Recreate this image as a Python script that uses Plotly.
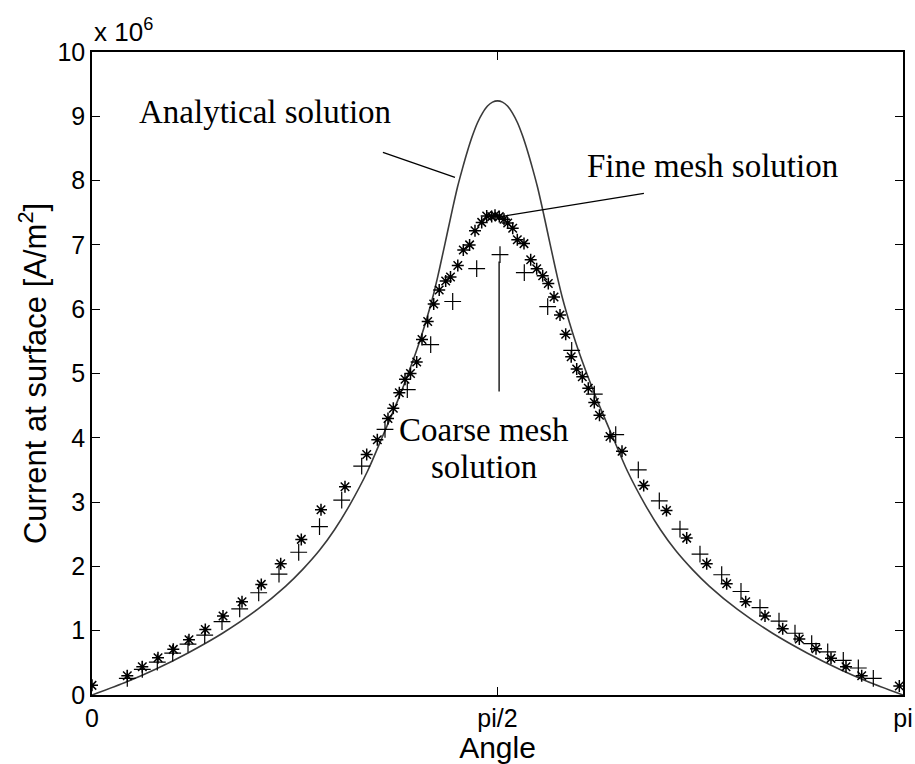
import plotly.graph_objects as go

# ---- data (current in units of 1e6 A/m^2) ----
analytic_angle = [0.0, 0.1375, 0.2460, 0.3700, 0.5055, 0.6411, 0.7496, 0.8154, 0.8813, 0.9394,
                  0.9975, 1.0672, 1.1253, 1.1834, 1.2222, 1.2609, 1.2919, 1.3190, 1.3384, 1.3577,
                  1.3771, 1.3965, 1.4159, 1.4352, 1.4546, 1.4740, 1.4933, 1.5127, 1.5321, 1.5514,
                  1.5708, 1.5902, 1.6095, 1.6289, 1.6483, 1.6676, 1.6870, 1.7064, 1.7257, 1.7451,
                  1.7645, 1.7839, 1.8032, 1.8226, 1.8497, 1.8807, 1.9194, 1.9582, 2.0163, 2.0744,
                  2.1441, 2.2022, 2.2603, 2.3262, 2.3920, 2.5005, 2.6361, 2.7716, 2.8956, 3.0041,
                  3.1416]
analytic_vals = [0.0, 0.21, 0.40, 0.65, 0.96, 1.33, 1.69, 1.95, 2.25, 2.57,
                 2.95, 3.48, 4.02, 4.57, 4.97, 5.40, 5.79, 6.17, 6.49, 6.84,
                 7.20, 7.56, 7.90, 8.19, 8.46, 8.70, 8.90, 9.05, 9.16, 9.22,
                 9.24, 9.22, 9.16, 9.05, 8.90, 8.70, 8.46, 8.19, 7.90, 7.56,
                 7.20, 6.84, 6.49, 6.17, 5.79, 5.40, 4.97, 4.57, 4.02, 3.48,
                 2.95, 2.57, 2.25, 1.95, 1.69, 1.33, 0.96, 0.65, 0.40, 0.21,
                 0.0]

fine_angle = [0.0, 0.1367, 0.1948, 0.2557, 0.3149, 0.3757, 0.4389, 0.5075, 0.5811, 0.6558,
              0.7310, 0.8108, 0.8871, 0.9800, 1.0641, 1.1052, 1.1466, 1.1672, 1.1904, 1.2125,
              1.2338, 1.2578, 1.2783, 1.3004, 1.3237, 1.3450, 1.3701, 1.3887, 1.4170, 1.4383,
              1.4627, 1.4836, 1.5096, 1.5290, 1.5483, 1.5611, 1.5778, 1.5960, 1.6103, 1.6297,
              1.6475, 1.6734, 1.6994, 1.7226, 1.7459, 1.7676, 1.7897, 1.8129, 1.8350, 1.8563,
              1.8776, 1.8993, 1.9225, 1.9458, 1.9659, 2.0066, 2.0531, 2.1371, 2.2254, 2.3037,
              2.3812, 2.4586, 2.5322, 2.6070, 2.6756, 2.7399, 2.8046, 2.8627, 2.9208, 2.9816,
              3.1273]
fine_vals = [0.15, 0.30, 0.44, 0.58, 0.71, 0.86, 1.02, 1.23, 1.45, 1.72,
             2.04, 2.42, 2.88, 3.24, 3.74, 3.97, 4.30, 4.46, 4.70, 4.91,
             5.00, 5.18, 5.53, 5.81, 6.08, 6.30, 6.44, 6.50, 6.68, 6.92,
             7.00, 7.22, 7.35, 7.45, 7.44, 7.46, 7.44, 7.40, 7.34, 7.26,
             7.08, 7.02, 6.77, 6.63, 6.52, 6.40, 6.19, 5.91, 5.61, 5.26,
             5.07, 4.95, 4.77, 4.55, 4.35, 4.02, 3.79, 3.26, 2.87, 2.44,
             2.04, 1.73, 1.45, 1.23, 1.03, 0.87, 0.72, 0.57, 0.44, 0.30,
             0.14]

coarse_angle = [0.1367, 0.1948, 0.2530, 0.3126, 0.3719, 0.4366, 0.5036, 0.5721, 0.6457, 0.7244,
                0.8007, 0.8813, 0.9673, 1.0447, 1.1350, 1.2214, 1.3120, 1.3972, 1.4902, 1.5805,
                1.6746, 1.7652, 1.8582, 1.9458, 2.0287, 2.1162, 2.1976, 2.2777, 2.3552, 2.4393,
                2.5140, 2.5876, 2.6613, 2.7232, 2.7879, 2.8499, 2.9103, 2.9685, 3.0266]
coarse_vals = [0.26, 0.40, 0.51, 0.65, 0.79, 0.93, 1.14, 1.34, 1.59, 1.88,
               2.22, 2.62, 3.03, 3.56, 4.13, 4.75, 5.45, 6.12, 6.63, 6.85,
               6.57, 6.04, 5.36, 4.68, 4.05, 3.50, 3.02, 2.58, 2.19, 1.87,
               1.61, 1.36, 1.15, 0.96, 0.80, 0.67, 0.54, 0.42, 0.26]

x_tickvals = [0.0, 1.5707963, 3.1415927]
x_ticktext = ["0", "pi/2", "pi"]
y_tickvals = [0, 1, 2, 3, 4, 5, 6, 7, 8, 9, 10]
y_ticktext = ["0", "1", "2", "3", "4", "5", "6", "7", "8", "9", "10"]

fig = go.Figure()
fig.add_trace(go.Scatter(x=analytic_angle, y=analytic_vals, mode="lines",
                         line=dict(color="#3a3a3a", width=1.6, shape="spline", smoothing=0.8),
                         name="Analytical solution"))
fig.add_trace(go.Scatter(x=fine_angle, y=fine_vals, mode="markers",
                         marker=dict(symbol="asterisk-open", size=10, color="black",
                                     line=dict(color="black", width=1.5)),
                         name="Fine mesh solution"))
fig.add_trace(go.Scatter(x=coarse_angle, y=coarse_vals, mode="markers",
                         marker=dict(symbol="cross-thin-open", size=12, color="black",
                                     line=dict(color="black", width=1.2)),
                         name="Coarse mesh solution"))

serif = dict(family="Liberation Serif, Times New Roman, serif", size=33, color="black")
sans = "Liberation Sans, Arial, Helvetica, sans-serif"

# pointer lines
fig.add_shape(type="line", x0=1.127, y0=8.44, x1=1.406, y1=8.05, line=dict(color="black", width=1.3))
fig.add_shape(type="line", x0=2.138, y0=7.80, x1=1.583, y1=7.44, line=dict(color="black", width=1.3))
fig.add_shape(type="line", x0=1.577, y0=6.74, x1=1.577, y1=4.72, line=dict(color="black", width=1.3))

fig.add_annotation(x=0.670, y=9.07, text="Analytical solution", showarrow=False, font=serif,
                   xanchor="center", yanchor="middle")
fig.add_annotation(x=2.402, y=8.22, text="Fine mesh solution", showarrow=False, font=serif,
                   xanchor="center", yanchor="middle")
fig.add_annotation(x=1.520, y=4.12, text="Coarse mesh", showarrow=False, font=serif,
                   xanchor="center", yanchor="middle")
fig.add_annotation(x=1.520, y=3.54, text="solution", showarrow=False, font=serif,
                   xanchor="center", yanchor="middle")
fig.add_annotation(xref="paper", yref="paper", x=0.0, y=1.0, yshift=3, text="x 10<sup>6</sup>",
                   showarrow=False, xanchor="left", yanchor="bottom",
                   font=dict(family=sans, size=26, color="black"))

axis_common = dict(showline=True, linecolor="black", linewidth=1.5, mirror="ticks",
                   ticks="inside", ticklen=8, tickwidth=1.2, tickcolor="black",
                   showgrid=False, zeroline=False,
                   tickfont=dict(family=sans, size=25, color="black"))

fig.update_xaxes(range=[0, 3.1415927], tickmode="array", tickvals=x_tickvals, ticktext=x_ticktext,
                 title=dict(text="Angle", standoff=5,
                            font=dict(family=sans, size=30, color="black")),
                 automargin=False, **axis_common)
fig.update_yaxes(range=[0, 10], tickmode="array", tickvals=y_tickvals, ticktext=y_ticktext,
                 title=dict(text="Current at surface [A/m<sup>2</sup>]", standoff=2,
                            font=dict(family=sans, size=31, color="black")),
                 automargin=False, **axis_common)

fig.update_layout(width=915, height=764, margin=dict(l=92, r=12, t=52, b=69),
                  paper_bgcolor="white", plot_bgcolor="white", showlegend=False)

fig.write_html("out.html")
